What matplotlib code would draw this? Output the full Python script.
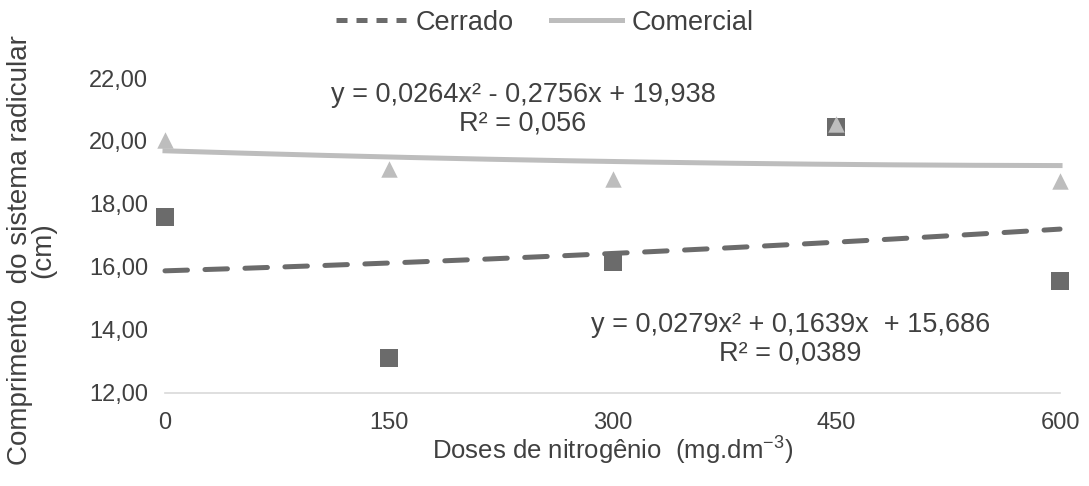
import numpy as np
import matplotlib
matplotlib.use("Agg")
import matplotlib.pyplot as plt
from matplotlib.lines import Line2D
from matplotlib.ticker import FuncFormatter

plt.rcParams['font.family'] = ['Liberation Sans', 'DejaVu Sans']
plt.rcParams['mathtext.fontset'] = 'custom'
plt.rcParams['mathtext.rm'] = 'Liberation Sans'
plt.rcParams['mathtext.it'] = 'Liberation Sans'

doses = [0, 150, 300, 450, 600]
cerrado = [17.59, 13.11, 16.16, 20.44, 15.56]
comercial = [20.03, 19.11, 18.79, 20.54, 18.73]
cerrado_coef = [0.0279, 0.1639, 15.686]
comercial_coef = [0.0264, -0.2756, 19.938]
cerrado_eq = "y = 0,0279x² + 0,1639x  + 15,686\nR² = 0,0389"
comercial_eq = "y = 0,0264x² - 0,2756x + 19,938\nR² = 0,056"
yticks = [12, 14, 16, 18, 20, 22]

dark = '#6b6b6b'
light = '#bdbdbd'
txt = '#404040'

fig = plt.figure(figsize=(10.89, 4.86), dpi=100)
ax = fig.add_axes([0.1515, 0.1914, 0.8219, 0.6481])

# trendlines (Excel uses index 1..n for category x)
xs = np.linspace(doses[0], doses[-1], 200)
idx = xs / (doses[1] - doses[0]) + 1
ax.plot(xs, np.polyval(cerrado_coef, idx), color=dark, lw=3.6,
        dashes=(4.5, 3.5), dash_capstyle='round', zorder=2, clip_on=False)
ax.plot(xs, np.polyval(comercial_coef, idx), color=light, lw=3.6, zorder=2, clip_on=False)

ax.scatter(doses, cerrado, marker='s', s=160, color=dark, zorder=3, linewidths=0, clip_on=False)
ax.scatter(doses, comercial, marker='^', s=140, color=light, zorder=4, linewidths=0, clip_on=False)

ax.set_xlim(doses[0], doses[-1])
ax.set_ylim(12, 22)
ax.set_xticks(doses)
ax.set_yticks(yticks)
ax.yaxis.set_major_formatter(FuncFormatter(lambda v, p: f"{v:.2f}".replace('.', ',')))
ax.tick_params(length=0, labelsize=17, colors=txt, pad=12)
ax.tick_params(axis='x', pad=14)
for s in ['top', 'right', 'left']:
    ax.spines[s].set_visible(False)
ax.spines['bottom'].set_color('#d9d9d9')
ax.spines['bottom'].set_linewidth(1.2)
ax.spines['bottom'].set_bounds(doses[0], doses[-1])

ax.set_xlabel(r"Doses de nitrogênio  (mg.dm$^{-3}$)", fontsize=18.5, color=txt, labelpad=0)
fig.text(0.029, 0.486, "Comprimento  do sistema radicular\n(cm)", rotation=90,
         ha='center', va='center', fontsize=20, color=txt, multialignment='center',
         linespacing=0.9)

ax.text(0.40, 0.9016, comercial_eq, transform=ax.transAxes, ha='center', va='center',
        fontsize=19.5, color=txt, linespacing=1.12, multialignment='center')
ax.text(0.699, 0.17, cerrado_eq, transform=ax.transAxes, ha='center', va='center',
        fontsize=19.5, color=txt, linespacing=1.12, multialignment='center')

handles = [Line2D([], [], color=dark, lw=3.6, dashes=(2.2, 1.8)),
           Line2D([], [], color=light, lw=3.6)]
fig.legend(handles, ['Cerrado', 'Comercial'], loc='center', bbox_to_anchor=(0.50, 0.953),
           ncol=2, frameon=False, fontsize=19.5, handlelength=2.6, handletextpad=0.35,
           columnspacing=1.4, labelcolor=txt)

fig.savefig('out.png', dpi=100)
